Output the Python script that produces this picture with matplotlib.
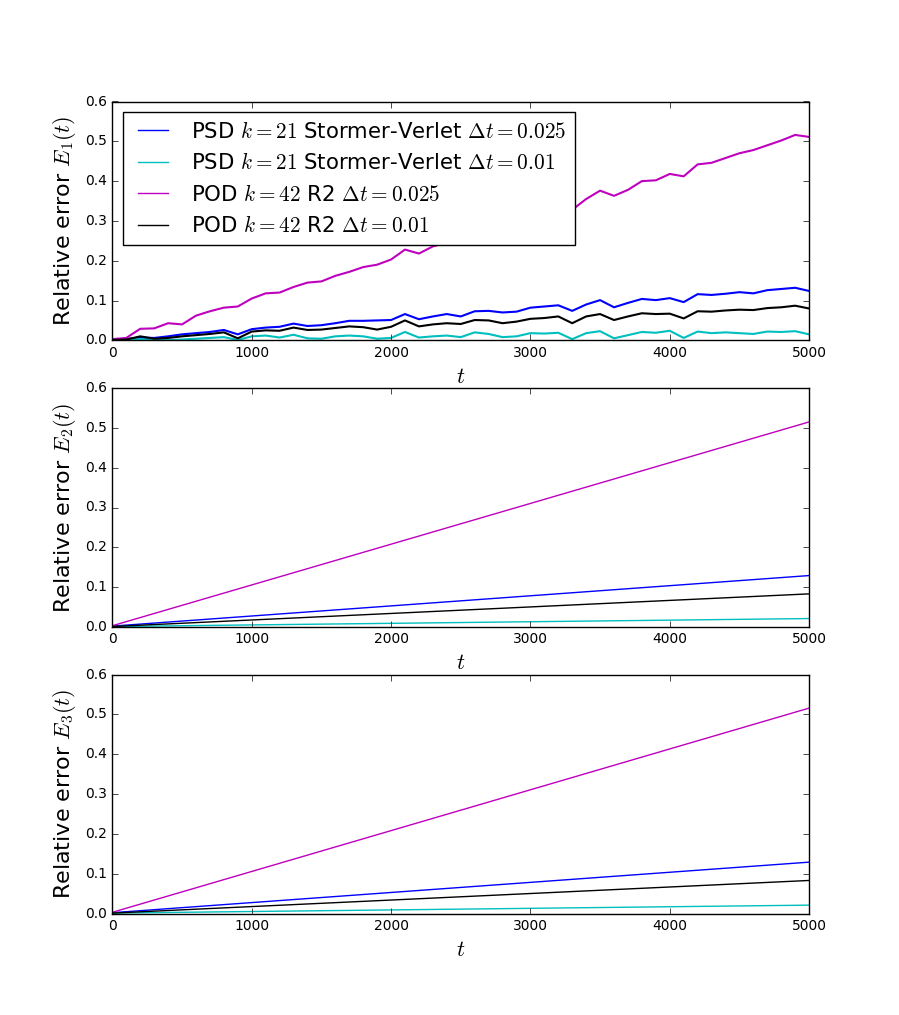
import matplotlib
matplotlib.use('Agg')
import matplotlib.pyplot as plt
import numpy as np

plt.style.use('classic')

# top panel (E1): values read every 100 time units
t_top = list(range(0, 5001, 100))

psd_sv_025 = [0.002, 0.003, 0.007, 0.006, 0.010, 0.015, 0.018, 0.021, 0.026, 0.015,
              0.028, 0.032, 0.034, 0.042, 0.036, 0.038, 0.043, 0.049, 0.049, 0.050,
              0.051, 0.066, 0.053, 0.060, 0.066, 0.060, 0.073, 0.074, 0.070, 0.072,
              0.082, 0.085, 0.088, 0.074, 0.090, 0.101, 0.083, 0.094, 0.104, 0.101,
              0.106, 0.096, 0.116, 0.114, 0.117, 0.121, 0.118, 0.126, 0.129, 0.132,
              0.124]

psd_sv_01 = [0.000, 0.001, 0.003, 0.001, 0.001, 0.002, 0.004, 0.006, 0.008, 0.001,
             0.010, 0.012, 0.007, 0.014, 0.005, 0.004, 0.010, 0.012, 0.010, 0.004,
             0.006, 0.021, 0.007, 0.010, 0.012, 0.008, 0.020, 0.016, 0.008, 0.010,
             0.018, 0.017, 0.019, 0.003, 0.018, 0.023, 0.005, 0.013, 0.021, 0.019,
             0.024, 0.006, 0.022, 0.018, 0.020, 0.018, 0.016, 0.022, 0.021, 0.023,
             0.015]

pod_r2_025 = [0.003, 0.006, 0.029, 0.030, 0.043, 0.040, 0.062, 0.073, 0.082, 0.085,
              0.105, 0.118, 0.120, 0.134, 0.145, 0.148, 0.162, 0.172, 0.184, 0.190,
              0.203, 0.228, 0.218, 0.236, 0.245, 0.255, 0.265, 0.275, 0.285, 0.295,
              0.303, 0.312, 0.322, 0.328, 0.355, 0.376, 0.363, 0.378, 0.400, 0.402,
              0.418, 0.412, 0.442, 0.446, 0.458, 0.470, 0.478, 0.490, 0.502, 0.516,
              0.511]

pod_r2_01 = [0.001, 0.002, 0.010, 0.004, 0.006, 0.010, 0.013, 0.016, 0.020, 0.005,
             0.022, 0.025, 0.024, 0.032, 0.026, 0.027, 0.031, 0.035, 0.033, 0.027,
             0.034, 0.050, 0.035, 0.040, 0.043, 0.041, 0.051, 0.050, 0.043, 0.047,
             0.054, 0.056, 0.060, 0.043, 0.060, 0.066, 0.051, 0.060, 0.068, 0.066,
             0.067, 0.055, 0.073, 0.072, 0.075, 0.077, 0.076, 0.081, 0.083, 0.087,
             0.080]

# E2 and E3 panels: straight lines, start/end values
t_lin = [0, 5000]
e2 = {'psd_025': [0.002, 0.129], 'psd_01': [0.001, 0.021],
      'pod_025': [0.003, 0.515], 'pod_01': [0.001, 0.083]}
e3 = {'psd_025': [0.002, 0.129], 'psd_01': [0.001, 0.021],
      'pod_025': [0.003, 0.516], 'pod_01': [0.001, 0.083]}

labels = [r'PSD $k=21$ Stormer-Verlet $\Delta t=0.025$',
          r'PSD $k=21$ Stormer-Verlet $\Delta t=0.01$',
          r'POD $k=42$ R2 $\Delta t=0.025$',
          r'POD $k=42$ R2 $\Delta t=0.01$']
colors = ['b', 'c', 'm', 'k']
keys = ['psd_025', 'psd_01', 'pod_025', 'pod_01']

fig = plt.figure(figsize=(8.99, 10.15), dpi=100, facecolor='white')

ax1 = fig.add_subplot(3, 1, 1)
for y, c, lab in zip([psd_sv_025, psd_sv_01, pod_r2_025, pod_r2_01], colors, labels):
    ax1.plot(t_top, y, color=c, lw=1.5, label=lab)
leg = ax1.legend(loc='upper left', fontsize=15.3)
for l in leg.get_lines():
    l.set_linewidth(1.0)
ax1.set_ylabel(r'Relative error $E_1(t)$', fontsize=16)

ax2 = fig.add_subplot(3, 1, 2)
for k, c in zip(keys, colors):
    ax2.plot(t_lin, e2[k], color=c, lw=1.0)
ax2.set_ylabel(r'Relative error $E_2(t)$', fontsize=16)

ax3 = fig.add_subplot(3, 1, 3)
for k, c in zip(keys, colors):
    ax3.plot(t_lin, e3[k], color=c, lw=1.0)
ax3.set_ylabel(r'Relative error $E_3(t)$', fontsize=16)

for ax in [ax1, ax2, ax3]:
    ax.set_xlim(0, 5000)
    ax.set_ylim(0, 0.6)
    ax.set_xlabel(r'$t$', fontsize=16)
    ax.tick_params(labelsize=10)

fig.savefig('out.png', dpi=100, facecolor='white')
